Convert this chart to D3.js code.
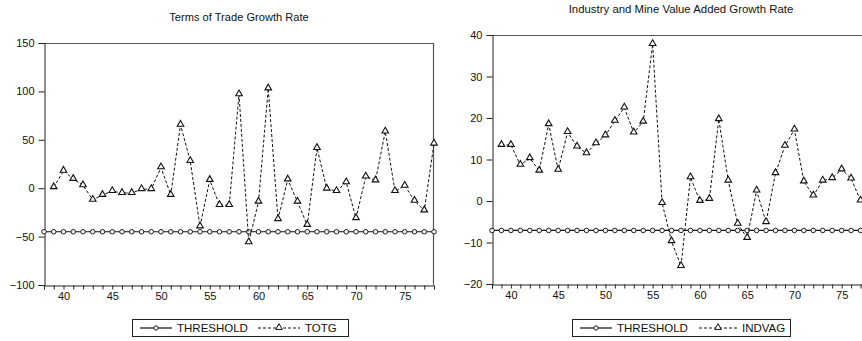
<!DOCTYPE html>
<html>
<head>
<meta charset="utf-8">
<script src="https://cdn.jsdelivr.net/npm/d3@7"></script>
<style>
  html, body { margin: 0; padding: 0; background: #fff; }
  svg { display: block; font-family: "Liberation Sans", Arial, sans-serif; }
</style>
</head>
<body>
<svg id="chart" width="862" height="341"></svg>
<script>
// Years on the horizontal axis (1938-1978, shown as two digits)
const thresholdYears = [38,39,40,41,42,43,44,45,46,47,48,49,50,51,52,53,54,55,56,57,58,
  59,60,61,62,63,64,65,66,67,68,69,70,71,72,73,74,75,76,77,78];
const growthYears = [39,40,41,42,43,44,45,46,47,48,49,50,51,52,53,54,55,56,57,58,
  59,60,61,62,63,64,65,66,67,68,69,70,71,72,73,74,75,76,77,78];
const xTickLabels = [40, 45, 50, 55, 60, 65, 70, 75];

// Terms of trade growth rate (%)
const totg = [1, 18, 9.5, 3, -12, -7, -3, -5, -5, -1, -1, 21.5, -7, 65.5, 28, -39.5,
  8.5, -17.5, -17.5, 97, -56, -14, 103, -32, 9, -14, -38, 41.5, -0.5, -3,
  6, -31, 12, 8, 58.5, -3, 2.5, -13, -23, 46];
const totgThreshold = -45;
const totgTicks = [-100, -50, 0, 50, 100, 150];

// Industry and mine value added growth rate (%)
const indvag = [13.5, 13.5, 8.7, 10.3, 7.3, 18.5, 7.5, 16.6, 13.1, 11.5, 13.9, 15.8,
  19.3, 22.5, 16.5, 19.1, 37.8, -0.5, -9.7, -15.7, 5.7, 0, 0.5, 19.7, 4.9, -5.5,
  -8.9, 2.5, -5.1, 6.7, 13.3, 17.2, 4.7, 1.3, 4.9, 5.5, 7.6, 5.4, 0.1, -1.5];
const indvagThreshold = -7.1;
const indvagTicks = [-20, -10, 0, 10, 20, 30, 40];

const svg = d3.select("#chart");
const triangle = d3.symbol().type(d3.symbolTriangle).size(19);

function drawPanel(cfg) {
  const g = svg.append("g");
  const x = d3.scaleLinear().domain([38, 78]).range([cfg.left, cfg.right]);
  const y = d3.scaleLinear().domain(cfg.yDomain).range([cfg.bottom, cfg.top]);

  // title
  g.append("text")
    .attr("x", (cfg.left + cfg.right) / 2)
    .attr("y", cfg.titleY)
    .attr("text-anchor", "middle")
    .attr("font-size", cfg.titleSize)
    .attr("fill", "#111")
    .text(cfg.title);

  // frame (top and right sides)
  g.append("line").attr("x1", cfg.left).attr("x2", cfg.right)
    .attr("y1", cfg.top + 0.5).attr("y2", cfg.top + 0.5)
    .attr("stroke", "#555").attr("stroke-width", 1.2);
  g.append("line").attr("x1", cfg.right - 0.5).attr("x2", cfg.right - 0.5)
    .attr("y1", cfg.top).attr("y2", cfg.bottom)
    .attr("stroke", "#555").attr("stroke-width", 1.2);

  // left axis
  const yAxis = d3.axisLeft(y).tickValues(cfg.yTicks).tickSize(6).tickPadding(4)
    .tickFormat(d3.format("d"));
  const ya = g.append("g").attr("transform", `translate(${cfg.left + 0.5},0)`).call(yAxis);
  ya.select(".domain").attr("stroke", "#222");
  ya.selectAll(".tick line").attr("stroke", "#222");
  ya.selectAll("text").attr("font-size", 11).attr("fill", "#111")
    .attr("font-family", "Liberation Sans, Arial, sans-serif");

  // bottom axis: a tick for every year, labels every five years
  const xAxis = d3.axisBottom(x).tickValues(thresholdYears).tickSize(4).tickPadding(3)
    .tickFormat(d => xTickLabels.includes(d) ? d : "");
  const xa = g.append("g").attr("transform", `translate(0,${cfg.bottom + 0.5})`).call(xAxis);
  xa.select(".domain").attr("stroke", "#222");
  xa.selectAll(".tick line").attr("stroke", "#222");
  xa.selectAll("text").attr("font-size", 11).attr("fill", "#111")
    .attr("font-family", "Liberation Sans, Arial, sans-serif");

  // threshold line with circle markers
  const line = d3.line().x(d => x(d[0])).y(d => y(d[1]));
  const thr = thresholdYears.map(yr => [yr, cfg.threshold]);
  g.append("path").datum(thr).attr("d", line)
    .attr("fill", "none").attr("stroke", "#111").attr("stroke-width", 1.2);
  g.selectAll(null).data(thr).enter().append("circle")
    .attr("cx", d => x(d[0])).attr("cy", d => y(d[1])).attr("r", 2.3)
    .attr("fill", "#eee").attr("stroke", "#222").attr("stroke-width", 1);

  // growth series, dashed with triangle markers
  const ser = growthYears.map((yr, i) => [yr, cfg.values[i]]);
  g.append("path").datum(ser).attr("d", line)
    .attr("fill", "none").attr("stroke", "#111").attr("stroke-width", 1)
    .attr("stroke-dasharray", "3,2");
  g.selectAll(null).data(ser).enter().append("path")
    .attr("d", triangle)
    .attr("transform", d => `translate(${x(d[0])},${y(d[1]) - 0.5})`)
    .attr("fill", "#fff").attr("stroke", "#111").attr("stroke-width", 1.1);

  // legend
  const lg = g.append("g");
  lg.append("rect").attr("x", cfg.legend.x0 + 0.5).attr("y", 319.5)
    .attr("width", cfg.legend.x1 - cfg.legend.x0).attr("height", 17)
    .attr("fill", "#fff").attr("stroke", "#222").attr("stroke-width", 1);
  const ly = 328;
  const s1 = cfg.legend.s1;
  lg.append("line").attr("x1", s1[0]).attr("x2", s1[1]).attr("y1", ly).attr("y2", ly)
    .attr("stroke", "#111").attr("stroke-width", 1.2);
  lg.append("circle").attr("cx", (s1[0] + s1[1]) / 2).attr("cy", ly).attr("r", 2.2)
    .attr("fill", "#eee").attr("stroke", "#222");
  lg.append("text").attr("x", s1[1] + 5).attr("y", ly + 4)
    .attr("font-size", 11.5).attr("fill", "#111").text("THRESHOLD");
  const s2 = cfg.legend.s2;
  lg.append("line").attr("x1", s2[0]).attr("x2", s2[1]).attr("y1", ly).attr("y2", ly)
    .attr("stroke", "#111").attr("stroke-width", 1).attr("stroke-dasharray", "3,2");
  lg.append("path").attr("d", triangle)
    .attr("transform", `translate(${(s2[0] + s2[1]) / 2},${ly - 0.5})`)
    .attr("fill", "#fff").attr("stroke", "#111");
  lg.append("text").attr("x", s2[1] + 5).attr("y", ly + 4)
    .attr("font-size", 11.5).attr("fill", "#111").text(cfg.seriesName);
}

drawPanel({
  title: "Terms of Trade Growth Rate", titleY: 21, titleSize: 11.1,
  left: 44, right: 434, top: 43, bottom: 285,
  yDomain: [-100, 150], yTicks: totgTicks,
  values: totg, threshold: totgThreshold, seriesName: "TOTG",
  legend: { x0: 132, x1: 348, s1: [140, 172], s2: [258, 300] }
});

drawPanel({
  title: "Industry and Mine Value Added Growth Rate", titleY: 13, titleSize: 11.4,
  left: 492, right: 870, top: 35, bottom: 284,
  yDomain: [-20, 40], yTicks: indvagTicks,
  values: indvag, threshold: indvagThreshold, seriesName: "INDVAG",
  legend: { x0: 572, x1: 790, s1: [580, 612], s2: [699, 737] }
});
</script>
</body>
</html>
